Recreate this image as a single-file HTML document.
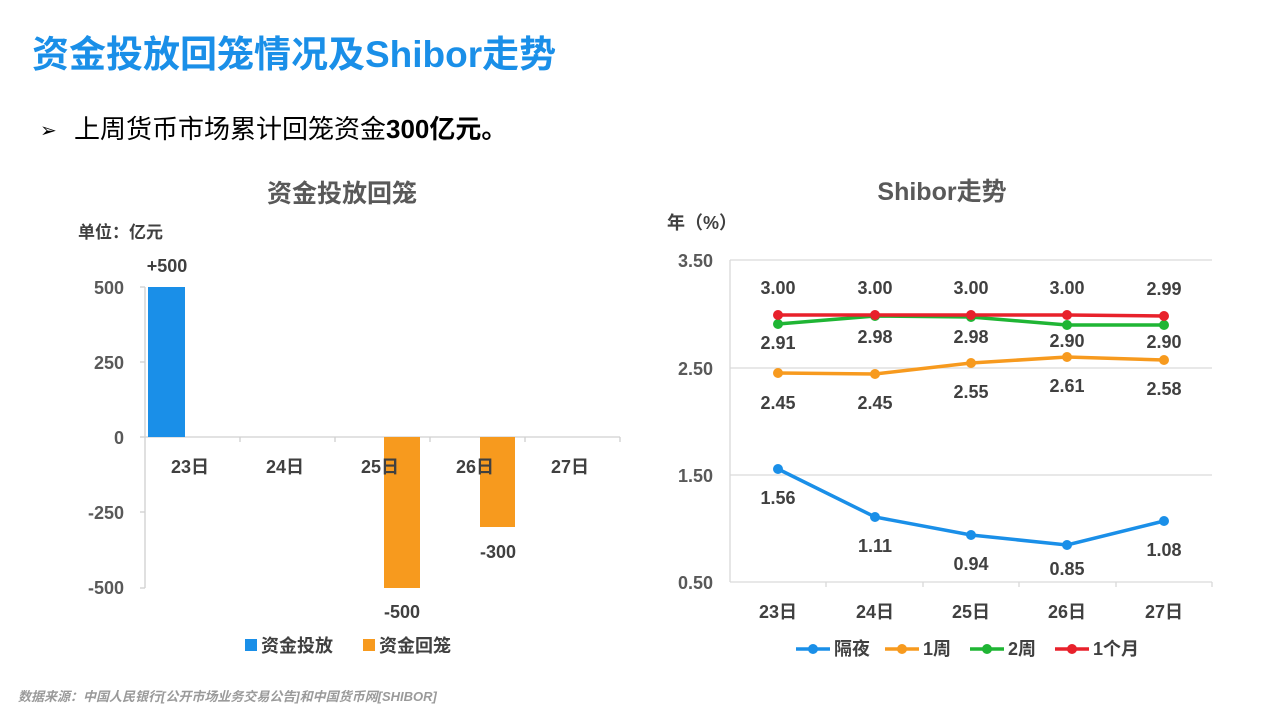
<!DOCTYPE html>
<html><head><meta charset="utf-8"><style>
body{margin:0;width:1280px;height:720px;background:#fff;overflow:hidden;font-family:"Liberation Sans","Noto Sans CJK SC",sans-serif;}
</style></head><body>
<svg width="1280" height="720" xmlns="http://www.w3.org/2000/svg" style="font-family:'Liberation Sans','Noto Sans CJK SC',sans-serif;font-weight:bold">
<text x="32" y="67" font-size="37" fill="#1a8fe8">资金投放回笼情况及Shibor走势</text>
<text x="40" y="137" font-size="20" fill="#000" font-weight="normal">➢</text>
<text x="74" y="138" font-size="26" fill="#000" font-weight="normal">上周货币市场累计回笼资金<tspan font-weight="bold">300亿元。</tspan></text>

<!-- Left chart -->
<text x="342" y="202" font-size="25" fill="#595959" text-anchor="middle">资金投放回笼</text>
<text x="78" y="238" font-size="17" fill="#404040">单位：亿元</text>
<g font-size="18" fill="#595959" text-anchor="end">
<text x="124" y="294">500</text><text x="124" y="369">250</text><text x="124" y="444">0</text>
<text x="124" y="519">-250</text><text x="124" y="594">-500</text></g>
<g stroke="#d0d0d0" stroke-width="1.3">
<line x1="145" y1="287" x2="145" y2="588"/>
<line x1="140" y1="287" x2="145" y2="287"/><line x1="140" y1="362" x2="145" y2="362"/><line x1="140" y1="437" x2="145" y2="437"/><line x1="140" y1="512" x2="145" y2="512"/><line x1="140" y1="588" x2="145" y2="588"/>
<line x1="145" y1="437" x2="620" y2="437"/>
<line x1="240" y1="437" x2="240" y2="442"/><line x1="335" y1="437" x2="335" y2="442"/><line x1="430" y1="437" x2="430" y2="442"/><line x1="525" y1="437" x2="525" y2="442"/><line x1="620" y1="437" x2="620" y2="442"/>
</g>
<rect x="148" y="287" width="37" height="150" fill="#1a8fe8"/>
<rect x="384" y="437" width="36" height="151" fill="#f79a1e"/>
<rect x="480" y="437" width="35" height="90" fill="#f79a1e"/>
<g font-size="18" fill="#404040" text-anchor="middle">
<text x="167" y="272">+500</text><text x="402" y="618">-500</text><text x="498" y="558">-300</text>
<text x="190" y="473">23日</text><text x="285" y="473">24日</text><text x="380" y="473">25日</text><text x="475" y="473">26日</text><text x="570" y="473">27日</text></g>
<rect x="245" y="639" width="12" height="12" fill="#1a8fe8"/>
<text x="261" y="652" font-size="18" fill="#404040">资金投放</text>
<rect x="363" y="639" width="12" height="12" fill="#f79a1e"/>
<text x="379" y="652" font-size="18" fill="#404040">资金回笼</text>

<!-- Right chart -->
<text x="942" y="200" font-size="25" fill="#595959" text-anchor="middle">Shibor走势</text>
<text x="667" y="229" font-size="18" fill="#404040">年（%）</text>
<g font-size="18" fill="#595959" text-anchor="end">
<text x="713" y="267">3.50</text><text x="713" y="375">2.50</text><text x="713" y="482">1.50</text><text x="713" y="589">0.50</text></g>
<g stroke="#d9d9d9" stroke-width="1.3">
<line x1="730" y1="260" x2="1212" y2="260"/><line x1="730" y1="368" x2="1212" y2="368"/><line x1="730" y1="475" x2="1212" y2="475"/>
<line x1="730" y1="260" x2="730" y2="582"/><line x1="730" y1="582" x2="1212" y2="582"/>
<line x1="826" y1="582" x2="826" y2="587"/><line x1="923" y1="582" x2="923" y2="587"/><line x1="1019" y1="582" x2="1019" y2="587"/><line x1="1116" y1="582" x2="1116" y2="587"/><line x1="1212" y1="582" x2="1212" y2="587"/>
</g>
<g fill="none" stroke-width="3.5">
<polyline stroke="#1a8fe8" points="778,469 875,517 971,535 1067,545 1164,521"/>
<polyline stroke="#f79a1e" points="778,373 875,374 971,363 1067,357 1164,360"/>
<polyline stroke="#1fb534" points="778,324 875,316 971,317 1067,325 1164,325"/>
<polyline stroke="#e8212b" points="778,315 875,315 971,315 1067,315 1164,316"/>
</g>
<g fill="#1a8fe8"><circle cx="778" cy="469" r="5"/><circle cx="875" cy="517" r="5"/><circle cx="971" cy="535" r="5"/><circle cx="1067" cy="545" r="5"/><circle cx="1164" cy="521" r="5"/></g>
<g fill="#f79a1e"><circle cx="778" cy="373" r="5"/><circle cx="875" cy="374" r="5"/><circle cx="971" cy="363" r="5"/><circle cx="1067" cy="357" r="5"/><circle cx="1164" cy="360" r="5"/></g>
<g fill="#1fb534"><circle cx="778" cy="324" r="5"/><circle cx="875" cy="316" r="5"/><circle cx="971" cy="317" r="5"/><circle cx="1067" cy="325" r="5"/><circle cx="1164" cy="325" r="5"/></g>
<g fill="#e8212b"><circle cx="778" cy="315" r="5"/><circle cx="875" cy="315" r="5"/><circle cx="971" cy="315" r="5"/><circle cx="1067" cy="315" r="5"/><circle cx="1164" cy="316" r="5"/></g>
<g font-size="18" fill="#404040" text-anchor="middle">
<text x="778" y="294">3.00</text><text x="875" y="294">3.00</text><text x="971" y="294">3.00</text><text x="1067" y="294">3.00</text><text x="1164" y="295">2.99</text>
<text x="778" y="349">2.91</text><text x="875" y="343">2.98</text><text x="971" y="343">2.98</text><text x="1067" y="347">2.90</text><text x="1164" y="348">2.90</text>
<text x="778" y="409">2.45</text><text x="875" y="409">2.45</text><text x="971" y="398">2.55</text><text x="1067" y="392">2.61</text><text x="1164" y="395">2.58</text>
<text x="778" y="504">1.56</text><text x="875" y="552">1.11</text><text x="971" y="570">0.94</text><text x="1067" y="575">0.85</text><text x="1164" y="556">1.08</text>
<text x="778" y="618">23日</text><text x="875" y="618">24日</text><text x="971" y="618">25日</text><text x="1067" y="618">26日</text><text x="1164" y="618">27日</text></g>
<g stroke-width="3.5">
<line x1="796" y1="649" x2="830" y2="649" stroke="#1a8fe8"/><circle cx="813" cy="649" r="5" fill="#1a8fe8"/>
<line x1="885" y1="649" x2="919" y2="649" stroke="#f79a1e"/><circle cx="902" cy="649" r="5" fill="#f79a1e"/>
<line x1="970" y1="649" x2="1004" y2="649" stroke="#1fb534"/><circle cx="987" cy="649" r="5" fill="#1fb534"/>
<line x1="1055" y1="649" x2="1089" y2="649" stroke="#e8212b"/><circle cx="1072" cy="649" r="5" fill="#e8212b"/>
</g>
<g font-size="18" fill="#404040">
<text x="834" y="655">隔夜</text><text x="923" y="655">1周</text><text x="1008" y="655">2周</text><text x="1093" y="655">1个月</text></g>
<text x="18" y="701" font-size="13" fill="#9a9a9a" font-style="italic">数据来源：中国人民银行[公开市场业务交易公告]和中国货币网[SHIBOR]</text>
</svg>
</body></html>
